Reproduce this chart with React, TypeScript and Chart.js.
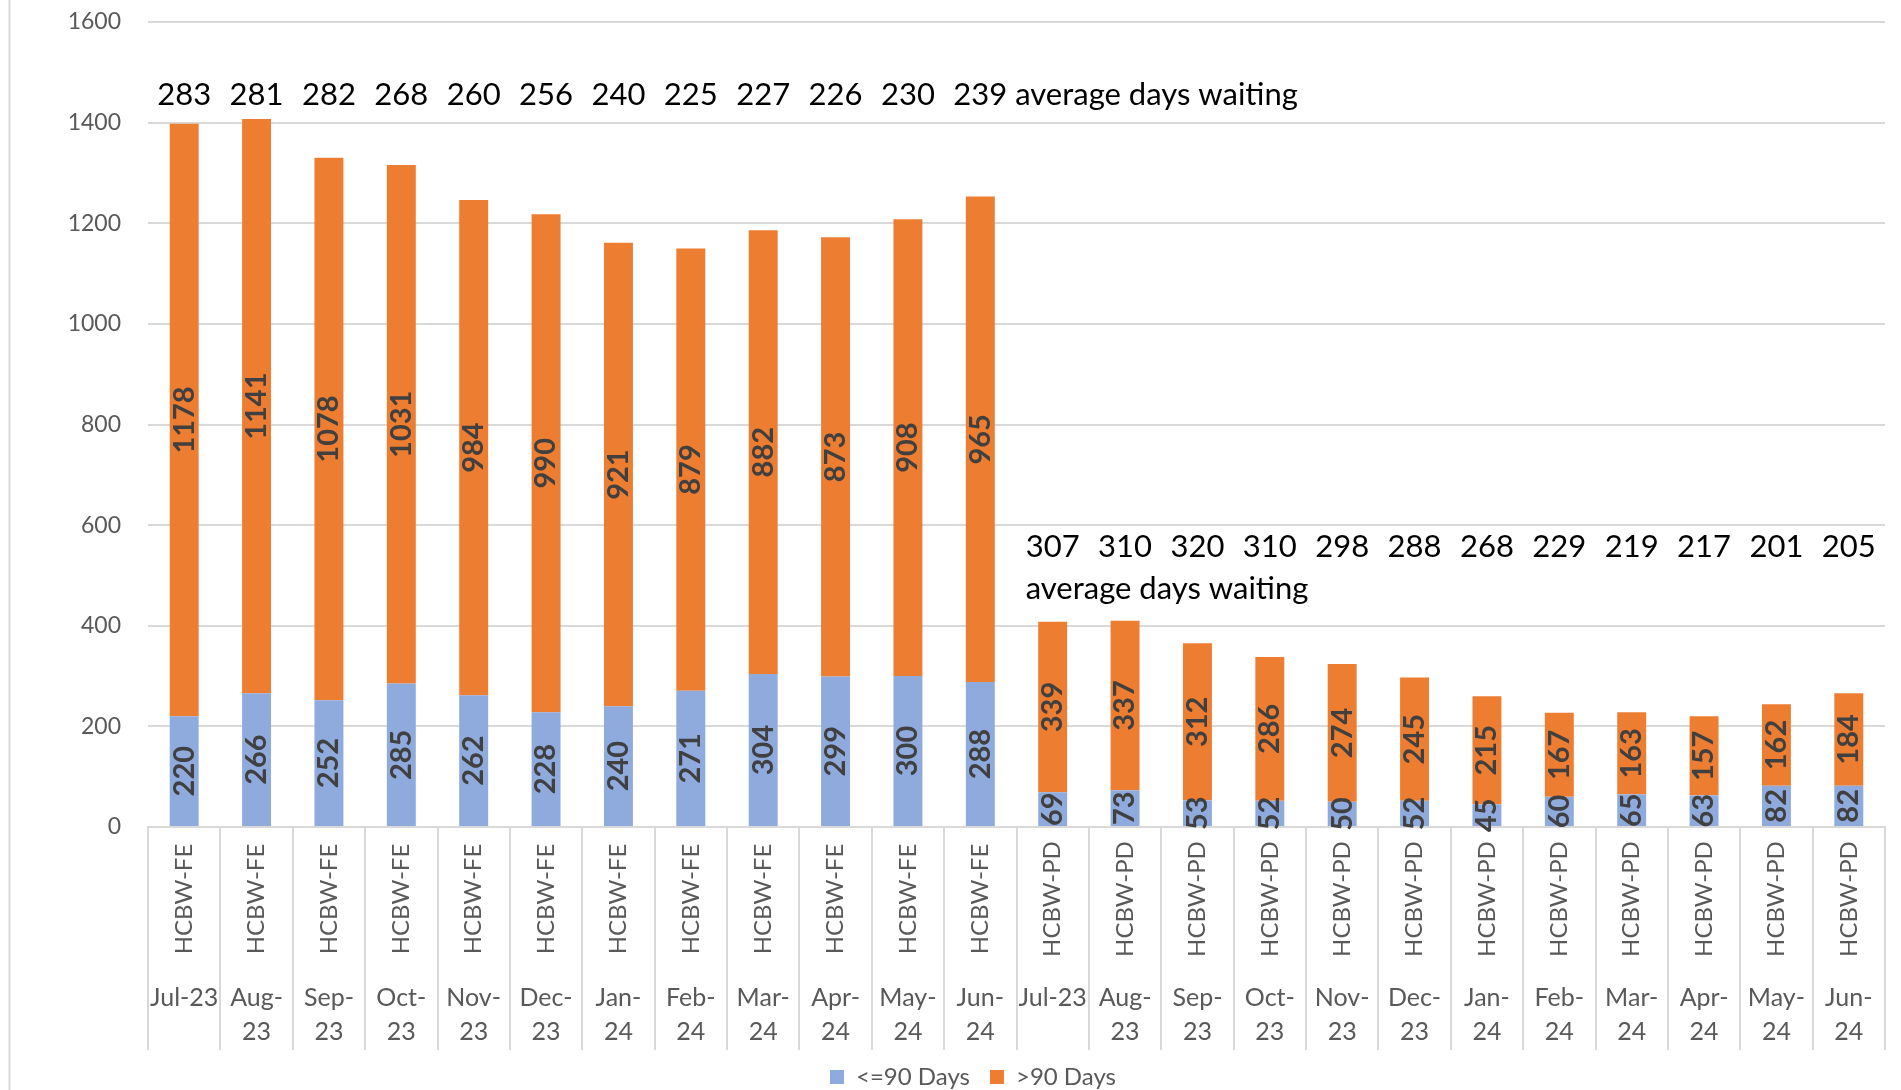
import React, { useEffect, useRef } from "react";
import { Chart, registerables } from "chart.js";

Chart.register(...registerables);

// ---------------- data ----------------
const months = [
  "Jul-23", "Aug-23", "Sep-23", "Oct-23", "Nov-23", "Dec-23",
  "Jan-24", "Feb-24", "Mar-24", "Apr-24", "May-24", "Jun-24",
];
const monthLines: string[][] = [
  ["Jul-23"], ["Aug-", "23"], ["Sep-", "23"], ["Oct-", "23"], ["Nov-", "23"], ["Dec-", "23"],
  ["Jan-", "24"], ["Feb-", "24"], ["Mar-", "24"], ["Apr-", "24"], ["May-", "24"], ["Jun-", "24"],
];
const groupFE = "HCBW-FE";
const groupPD = "HCBW-PD";
const groups = [...months.map(() => groupFE), ...months.map(() => groupPD)];
const categories = [...months, ...months];
const categoryLines = [...monthLines, ...monthLines];

const under90FE = [220, 266, 252, 285, 262, 228, 240, 271, 304, 299, 300, 288];
const under90PD = [69, 73, 53, 52, 50, 52, 45, 60, 65, 63, 82, 82];
const over90FE = [1178, 1141, 1078, 1031, 984, 990, 921, 879, 882, 873, 908, 965];
const over90PD = [339, 337, 312, 286, 274, 245, 215, 167, 163, 157, 162, 184];
const under90 = [...under90FE, ...under90PD];
const over90 = [...over90FE, ...over90PD];

const avgDaysFE = [283, 281, 282, 268, 260, 256, 240, 225, 227, 226, 230, 239];
const avgDaysPD = [307, 310, 320, 310, 298, 288, 268, 229, 219, 217, 201, 205];
const avgDaysText = "average days waiting";

const seriesNames = ["<=90 Days", ">90 Days"];
const yMin = 0;
const yMax = 1600;
const yStep = 200;

// ---------------- layout / style ----------------
const W = 1901;
const H = 1099;
const FONT = "Lato, 'Open Sans', sans-serif";
const BLUE = "#8FAADC";
const ORANGE = "#ED7D31";
const GRID = "#d9d9d9";
const AXIS_TEXT = "#595959";
const FE_LEVEL = 1455; // y value where FE average labels sit
const PD_LEVEL = 557;
const PD_LEVEL2 = 473;

const overlayPlugin = {
  id: "overlay",
  beforeDraw(chart: any) {
    const ctx = chart.ctx;
    ctx.save();
    ctx.strokeStyle = GRID;
    ctx.lineWidth = 2;
    ctx.beginPath();
    ctx.moveTo(9.5, 0);
    ctx.lineTo(9.5, chart.height);
    ctx.stroke();
    ctx.restore();
  },
  afterDatasetsDraw(chart: any) {
    const ctx = chart.ctx;
    chart.data.datasets.forEach((ds: any, di: number) => {
      const meta = chart.getDatasetMeta(di);
      meta.data.forEach((el: any, i: number) => {
        const { x, y, base } = el.getProps(["x", "y", "base"], true);
        const cy = (y + base) / 2;
        ctx.save();
        ctx.translate(x, cy);
        ctx.rotate(-Math.PI / 2);
        ctx.font = `bold 29px ${FONT}`;
        ctx.fillStyle = "#404040";
        ctx.textAlign = "center";
        ctx.textBaseline = "middle";
        ctx.fillText(String(ds.data[i]), 0, 0);
        ctx.restore();
      });
    });
  },
  afterDraw(chart: any) {
    const ctx = chart.ctx;
    const xs = chart.scales.x;
    const ys = chart.scales.y;
    const axisY = ys.getPixelForValue(0);
    // category labels (two levels)
    categories.forEach((_c, i) => {
      const x = xs.getPixelForValue(i);
      ctx.save();
      ctx.translate(x, axisY + 72);
      ctx.rotate(-Math.PI / 2);
      ctx.font = `24px ${FONT}`;
      ctx.fillStyle = AXIS_TEXT;
      ctx.textAlign = "center";
      ctx.textBaseline = "middle";
      ctx.fillText(groups[i], 0, 0);
      ctx.restore();
      ctx.save();
      ctx.font = `25px ${FONT}`;
      ctx.fillStyle = AXIS_TEXT;
      ctx.textAlign = "center";
      ctx.textBaseline = "middle";
      categoryLines[i].forEach((ln, k) => {
        ctx.fillText(ln, x, axisY + 171 + k * 34);
      });
      ctx.restore();
    });
    // average days waiting
    ctx.save();
    ctx.font = `31px ${FONT}`;
    ctx.fillStyle = "#000000";
    ctx.textBaseline = "middle";
    ctx.textAlign = "center";
    const yFE = ys.getPixelForValue(FE_LEVEL);
    avgDaysFE.forEach((v, i) => {
      ctx.fillText(String(v), xs.getPixelForValue(i), yFE);
    });
    const lastX = xs.getPixelForValue(avgDaysFE.length - 1);
    const lastW = ctx.measureText(String(avgDaysFE[avgDaysFE.length - 1])).width;
    const spaceW = ctx.measureText(" ").width;
    ctx.textAlign = "left";
    ctx.fillText(avgDaysText, lastX + lastW / 2 + spaceW, yFE);
    ctx.textAlign = "center";
    const yPD = ys.getPixelForValue(PD_LEVEL);
    const off = avgDaysFE.length;
    avgDaysPD.forEach((v, i) => {
      ctx.fillText(String(v), xs.getPixelForValue(off + i), yPD);
    });
    const firstX = xs.getPixelForValue(off);
    const firstW = ctx.measureText(String(avgDaysPD[0])).width;
    ctx.textAlign = "left";
    ctx.fillText(avgDaysText, firstX - firstW / 2, ys.getPixelForValue(PD_LEVEL2));
    ctx.restore();
  },
};

export default function App() {
  const ref = useRef<HTMLCanvasElement | null>(null);
  useEffect(() => {
    document.body.style.margin = "0";
    document.body.style.overflow = "hidden";
    if (!ref.current) return;
    const chart = new Chart(ref.current, {
      type: "bar",
      data: {
        labels: categories,
        datasets: [
          {
            label: seriesNames[0],
            data: under90,
            backgroundColor: BLUE,
            borderWidth: 0,
            categoryPercentage: 1,
            barPercentage: 0.4,
          },
          {
            label: seriesNames[1],
            data: over90,
            backgroundColor: ORANGE,
            borderWidth: 0,
            categoryPercentage: 1,
            barPercentage: 0.4,
          },
        ],
      },
      options: {
        responsive: false,
        animation: false,
        devicePixelRatio: 1,
        layout: { padding: { left: 61, right: 16, top: 22, bottom: 0 } },
        plugins: {
          tooltip: { enabled: false },
          legend: {
            position: "bottom",
            labels: {
              boxWidth: 14,
              boxHeight: 14,
              padding: 20,
              color: AXIS_TEXT,
              font: { family: FONT, size: 24 },
            },
          },
        },
        scales: {
          x: {
            stacked: true,
            offset: true,
            grid: {
              offset: true,
              drawOnChartArea: false,
              drawTicks: true,
              tickLength: 223,
              color: GRID,
              lineWidth: 2,
            },
            border: { display: true, color: GRID, width: 2 },
            ticks: { display: false },
            afterFit: (s: any) => {
              s.height = 218;
            },
          },
          y: {
            stacked: true,
            min: yMin,
            max: yMax,
            grid: { color: GRID, lineWidth: 2, drawTicks: false },
            border: { display: false },
            ticks: {
              stepSize: yStep,
              padding: 27,
              color: AXIS_TEXT,
              font: { family: FONT, size: 23 },
              callback: (v: any) => String(v),
            },
            afterFit: (s: any) => {
              s.width = 87;
              s.paddingTop = 0;
              s.paddingBottom = 0;
            },
          },
        },
      },
      plugins: [overlayPlugin],
    });
    return () => chart.destroy();
  }, []);
  return (
    <div style={{ width: W, height: H }}>
      <canvas ref={ref} width={W} height={H} style={{ display: "block" }} />
    </div>
  );
}
